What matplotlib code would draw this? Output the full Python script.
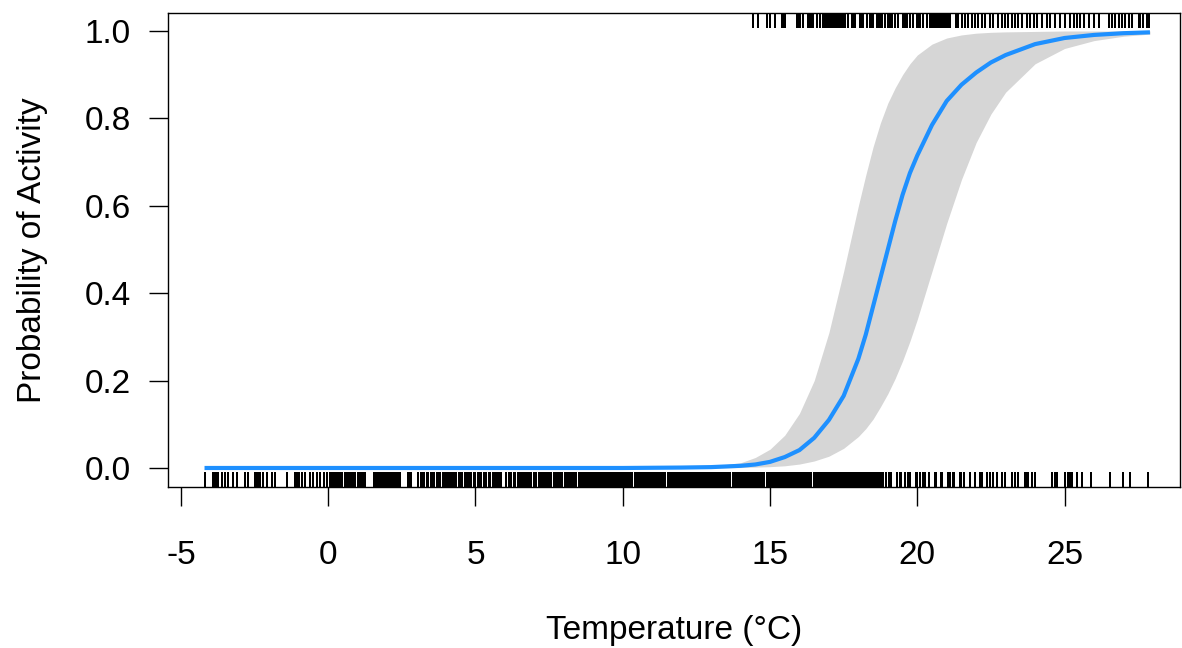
import matplotlib
matplotlib.use("Agg")
import matplotlib.pyplot as plt
import matplotlib.transforms as mtransforms

# fitted probability curve
temp = [-4.2, 0, 5, 10, 12, 13, 14, 14.5, 15, 15.5, 16, 16.5, 17, 17.5, 18, 18.25,
        18.5, 18.75, 19, 19.25, 19.5, 19.75, 20, 20.5, 21, 21.5, 22, 22.5, 23, 24, 25,
        26, 27, 27.9]
prob = [0.0, 0.0, 0.0, 0.0, 0.001, 0.002, 0.005, 0.008, 0.014, 0.025, 0.041, 0.069,
        0.11, 0.165, 0.25, 0.305, 0.37, 0.435, 0.50, 0.565, 0.625, 0.675, 0.715, 0.785,
        0.84, 0.877, 0.905, 0.928, 0.945, 0.97, 0.984, 0.991, 0.995, 0.997]
upper = [0.0, 0.0, 0.0, 0.0, 0.001, 0.004, 0.012, 0.024, 0.043, 0.075, 0.125, 0.20,
         0.31, 0.45, 0.60, 0.67, 0.735, 0.79, 0.835, 0.87, 0.90, 0.925, 0.945, 0.97,
         0.984, 0.991, 0.995, 0.997, 0.998, 0.999, 1.0, 1.0, 1.0, 1.0]
lower = [0.0, 0.0, 0.0, 0.0, 0.0, 0.0, 0.001, 0.002, 0.003, 0.005, 0.009, 0.016,
         0.027, 0.045, 0.072, 0.09, 0.112, 0.14, 0.17, 0.205, 0.245, 0.29, 0.34, 0.45,
         0.56, 0.66, 0.745, 0.81, 0.86, 0.925, 0.96, 0.978, 0.988, 0.993]

# observed temperatures with no activity (rug at 0)
rug_inactive = [
    -4.18, -3.90, -3.84, -3.77, -3.74, -3.61, -3.50, -3.39, -3.22, -3.10, -2.82, -2.71,
    -2.48, -2.42, -2.36, -2.31, -2.20, -2.08, -1.91, -1.80, -1.40, -1.12, -1.06, -1.00,
    -0.89, -0.78, -0.61, -0.50, -0.38, -0.27, -0.16, -0.04, 0.07, 0.12, 0.18, 0.24,
    0.29, 0.35, 0.40, 0.46, 0.58, 0.63, 0.68, 0.73, 0.78, 0.83, 0.88, 0.92,
    1.00, 1.05, 1.10, 1.15, 1.20, 1.25, 1.55, 1.60, 1.65, 1.70, 1.75, 1.80, 1.85, 1.90,
    1.95, 2.00, 2.05, 2.10, 2.15, 2.20, 2.25, 2.30, 2.35, 2.40, 2.45, 2.70, 2.75, 2.80,
    3.05, 3.15, 3.20, 3.25, 3.35, 3.40, 3.50, 3.55, 3.60, 3.70, 3.75, 3.80, 3.90, 3.95,
    4.00, 4.05, 4.10, 4.15, 4.20, 4.25, 4.30, 4.35, 4.45, 4.50, 4.55, 4.65, 4.70, 4.75,
    4.80, 4.85, 4.95, 5.00, 5.10, 5.15, 5.20, 5.30, 5.35, 5.45, 5.50, 5.60, 5.65, 5.70,
    5.75, 5.80, 5.85, 6.05, 6.15, 6.20, 6.30, 6.35, 6.45, 6.50, 6.55, 6.60, 6.65, 6.70,
    6.75, 6.80, 6.85, 6.90, 7.00, 7.05, 7.15, 7.20, 7.25, 7.30, 7.35, 7.40, 7.45, 7.50,
    7.55, 7.65, 7.70, 7.75, 7.80, 7.85, 7.90, 7.95, 8.05, 8.10, 8.15, 8.20, 8.25, 8.30,
    8.35, 8.40, 8.50, 8.55, 8.60, 8.65, 8.70, 8.75, 8.80, 8.85, 8.90, 8.95, 9.00, 9.05,
    9.10, 9.15, 9.20, 9.25, 9.30, 9.35, 9.40, 9.45, 9.50, 9.55, 9.60, 9.65, 9.70, 9.75,
    9.80, 9.85, 9.90, 9.95, 10.00, 10.05, 10.10, 10.15, 10.20, 10.25, 10.30, 10.40, 10.45,
    10.50, 10.55, 10.60, 10.65, 10.70, 10.75, 10.80, 10.85, 10.90, 10.95, 11.00, 11.05,
    11.10, 11.15, 11.20, 11.25, 11.30, 11.35, 11.40, 11.45, 11.55, 11.60, 11.65, 11.70,
    11.75, 11.80, 11.85, 11.90, 11.95, 12.00, 12.05, 12.10, 12.15, 12.20, 12.25, 12.30,
    12.35, 12.40, 12.45, 12.50, 12.55, 12.60, 12.65, 12.70, 12.75, 12.80, 12.85, 12.90,
    12.95, 13.00, 13.05, 13.10, 13.15, 13.20, 13.25, 13.30, 13.35, 13.40, 13.45, 13.50,
    13.55, 13.60, 13.65, 13.75, 13.80, 13.85, 13.90, 13.95, 14.00, 14.05, 14.10, 14.15,
    14.20, 14.25, 14.30, 14.35, 14.40, 14.45, 14.50, 14.55, 14.60, 14.65, 14.70, 14.75,
    14.80, 14.90, 14.95, 15.00, 15.05, 15.10, 15.15, 15.20, 15.25, 15.30, 15.35, 15.40,
    15.45, 15.50, 15.55, 15.60, 15.65, 15.70, 15.75, 15.80, 15.85, 15.90, 15.95, 16.00,
    16.05, 16.10, 16.15, 16.20, 16.25, 16.30, 16.35, 16.40, 16.50, 16.55, 16.60, 16.65,
    16.70, 16.75, 16.80, 16.85, 16.90, 16.95, 17.00, 17.05, 17.10, 17.15, 17.20, 17.25,
    17.30, 17.35, 17.40, 17.45, 17.50, 17.55, 17.60, 17.65, 17.70, 17.75, 17.80, 17.85,
    17.90, 17.95, 18.00, 18.05, 18.10, 18.15, 18.20, 18.25, 18.30, 18.35, 18.40, 18.45,
    18.50, 18.55, 18.60, 18.65, 18.70, 18.75, 18.80, 18.85,
    18.95, 19.05, 19.10, 19.30, 19.40, 19.45, 19.60, 19.70, 19.75, 19.95, 20.00, 20.10,
    20.20, 20.25, 20.40, 20.60, 20.65, 20.80, 20.85, 21.05, 21.10, 21.20, 21.25, 21.45,
    21.50, 21.60, 21.80, 21.97, 22.14, 22.20, 22.38, 22.48, 22.58, 22.72, 22.89, 22.99,
    23.23, 23.33, 23.43, 23.67, 23.74, 23.77, 23.90, 24.00, 24.58, 24.69, 24.75, 25.03,
    25.13, 25.20, 25.26, 25.43, 25.60, 25.90, 26.55, 27.00, 27.23, 27.84,
]

# observed temperatures with activity (rug at 1)
rug_active = [
    14.43, 14.60, 14.90, 15.00, 15.18, 15.42, 15.47, 15.52, 15.93, 15.98, 16.03, 16.13,
    16.30, 16.35, 16.40, 16.47, 16.60, 16.70, 16.80, 16.85, 16.90, 16.98, 17.03, 17.08,
    17.15, 17.20, 17.25, 17.30, 17.35, 17.40, 17.45, 17.50, 17.55, 17.66, 17.79, 17.84,
    17.90, 18.06, 18.11, 18.17, 18.30, 18.40, 18.45, 18.50, 18.64, 18.69, 18.74, 18.81,
    18.91, 19.02, 19.08, 19.15, 19.25, 19.35, 19.52, 19.57, 19.66, 19.76, 19.86, 20.00,
    20.05, 20.10, 20.20, 20.34, 20.44, 20.51, 20.56, 20.61, 20.66, 20.71, 20.76, 20.81,
    20.86, 20.91, 20.96, 21.01, 21.05, 21.12, 21.32, 21.37, 21.53, 21.63, 21.73, 21.87,
    21.97, 22.07, 22.20, 22.31, 22.48, 22.58, 22.75, 22.89, 22.99, 23.09, 23.23, 23.33,
    23.43, 23.55, 23.72, 23.84, 23.95, 24.06, 24.23, 24.40, 24.52, 24.69, 24.86, 25.03,
    25.20, 25.31, 25.42, 25.53, 25.65, 25.82, 25.99, 26.16, 26.50, 26.61, 26.72, 26.84,
    26.95, 27.06, 27.18, 27.29, 27.52, 27.57, 27.68, 27.80, 27.86,
]

xticks = [-5, 0, 5, 10, 15, 20, 25]
yticks = [0.0, 0.2, 0.4, 0.6, 0.8, 1.0]
ytick_labels = ["0.0", "0.2", "0.4", "0.6", "0.8", "1.0"]

plt.rcParams['font.family'] = ['Liberation Sans', 'DejaVu Sans']

fig = plt.figure(figsize=(11.82, 6.48), dpi=100)
ax = fig.add_axes([168 / 1182, 1 - 487 / 648, (1180 - 168) / 1182, (487 - 13) / 648])

ax.fill_between(temp, lower, upper, color="#D6D6D6", linewidth=0)
ax.plot(temp, prob, color="#1E90FF", linewidth=3.0, solid_capstyle="butt")

trans = mtransforms.blended_transform_factory(ax.transData, ax.transAxes)
ax.vlines(rug_inactive, 0, 0.031, transform=trans, color="black", linewidth=1.1,
          antialiased=False)
ax.vlines(rug_active, 0.969, 1.0, transform=trans, color="black", linewidth=1.1,
          antialiased=False)

ax.set_xlim(-5.44, 28.92)
ax.set_ylim(-0.0435, 1.0412)
ax.set_xticks(xticks)
ax.set_xticklabels([str(t) for t in xticks])
ax.set_yticks(yticks)
ax.set_yticklabels(ytick_labels)
ax.tick_params(axis="both", direction="out", length=14, width=1.0, labelsize=24,
               colors="black")
ax.tick_params(axis="x", pad=24)
ax.tick_params(axis="y", pad=13)
for s in ax.spines.values():
    s.set_linewidth(1.0)

ax.set_xlabel("Temperature (°C)", fontsize=24, labelpad=32)
ax.set_ylabel("Probability of Activity", fontsize=24, labelpad=26)

fig.savefig("out.png", dpi=100)
